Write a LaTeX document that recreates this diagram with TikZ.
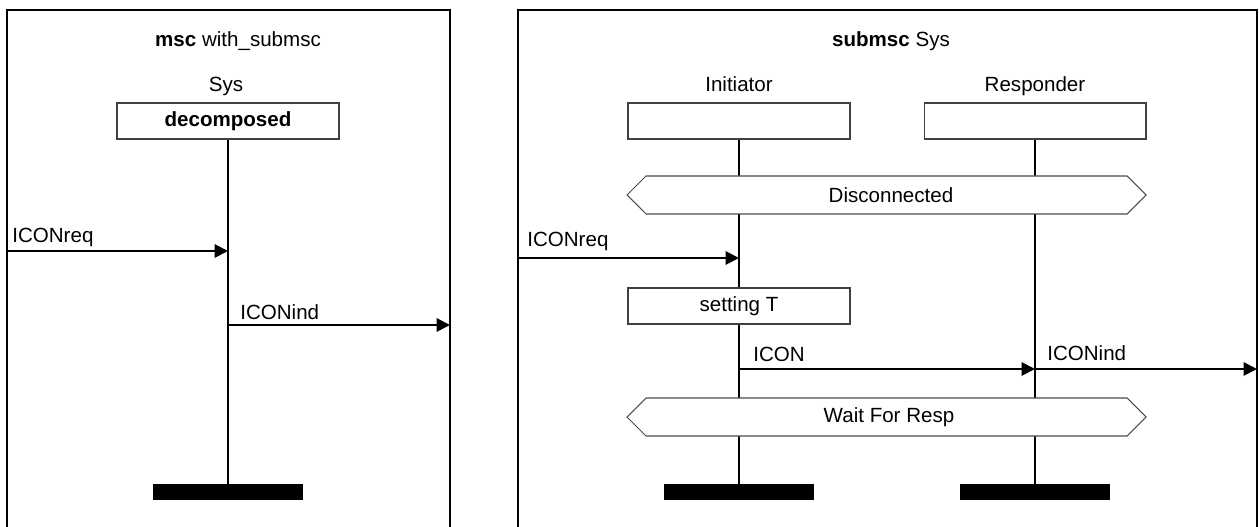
\documentclass[tikz,border=0pt]{standalone}
\usepackage{fontspec}
\setmainfont{Liberation Sans}
\usetikzlibrary{arrows.meta}

\begin{document}
\begin{tikzpicture}[x=0.02cm, y=-0.02cm,
    every node/.style={font=\fontsize{11.7}{14}\selectfont},
    frame/.style={draw, line width=1.1pt},
    instbox/.style={draw=black!75, line width=0.6pt, fill=white,
      minimum width=4.44cm, minimum height=0.72cm, inner sep=0pt},
    life/.style={line width=1.1pt},
    stopbar/.style={fill=black, minimum width=3cm, minimum height=0.32cm, inner sep=0pt},
    msg/.style={line width=1.1pt, -{Triangle[length=0.27cm, width=0.27cm]}},
    cond/.style={draw=black!70, line width=0.6pt, fill=white},
    msglabel/.style={anchor=base west, inner sep=0pt},
    headlabel/.style={anchor=base, inner sep=0pt}]
\useasboundingbox (0,0) rectangle (1259,527);

%%%%%%%%%%%%%%%%%%%%%%%%%%%%%%%%%%%%%%%%
% msc with_submsc

\draw[frame] (7,560) -- (7,10) -- (450,10) -- (450,560);
\node[headlabel] (title1) at (238,47) {\textbf{msc} with\_submsc};
\node[headlabel] (sysname) at (226,92) {Sys};
\node[instbox] (sys) at (228,121) {\textbf{decomposed}};
\node[stopbar] (sysend) at (228,492) {};
\draw[life] (sys.south) -- (sysend.north);

\path (7, 251) coordinate (envreq)
      (228, 251) coordinate (sysreq)
      (228, 325) coordinate (sysind)
      (450, 325) coordinate (envind);
\draw[msg] (envreq) -- (sysreq);
\node[msglabel] (reqlabel) at (12,243) {ICONreq};
\draw[msg] (sysind) -- (envind);
\node[msglabel] (indlabel) at (240,319) {ICONind};

%%%%%%%%%%%%%%%%%%%%%%%%%%%%%%%%%%%%%%%%
% submsc Sys

\draw[frame] (518,560) -- (518,10) -- (1257,10) -- (1257,560);
\node[headlabel] (title2) at (891,47) {\textbf{submsc} Sys};
\node[headlabel] (initname) at (739,92) {Initiator};
\node[headlabel] (respname) at (1035,92) {Responder};
\node[instbox] (init) at (739,121) {};
\node[instbox] (resp) at (1035,121) {};
\node[stopbar] (initend) at (739,492) {};
\node[stopbar] (respend) at (1035,492) {};
\draw[life] (init.south) -- (initend.north);
\draw[life] (resp.south) -- (respend.north);

\draw[cond]
     (627,195)
  -- ++(19,-19)
  -- (1127,176)
  -- ++(19,19)
  -- ++(-19,19)
  -- (646,214)
  -- cycle;
\node (disc) at (891,195) {Disconnected};

\path (518, 258) coordinate (envreq2)
      (739, 258) coordinate (initreq);
\draw[msg] (envreq2) -- (initreq);
\node[msglabel] (reqlabel2) at (527,247) {ICONreq};

\node[instbox] (settimer) at (739,306) {setting T};

\path (739, 369) coordinate (initcon)
      (1035, 369) coordinate (respcon)
      (1257, 369) coordinate (envind2);
\draw[msg] (initcon) -- (respcon);
\node[msglabel] (conlabel) at (753,361) {ICON};
\draw[msg] (respcon) -- (envind2);
\node[msglabel] (indlabel2) at (1047,360) {ICONind};

\draw[cond]
     (627,417)
  -- ++(19,-19)
  -- (1127,398)
  -- ++(19,19)
  -- ++(-19,19)
  -- (646,436)
  -- cycle;
\node (wait) at (889,417) {Wait For Resp};
\end{tikzpicture}
\end{document}
